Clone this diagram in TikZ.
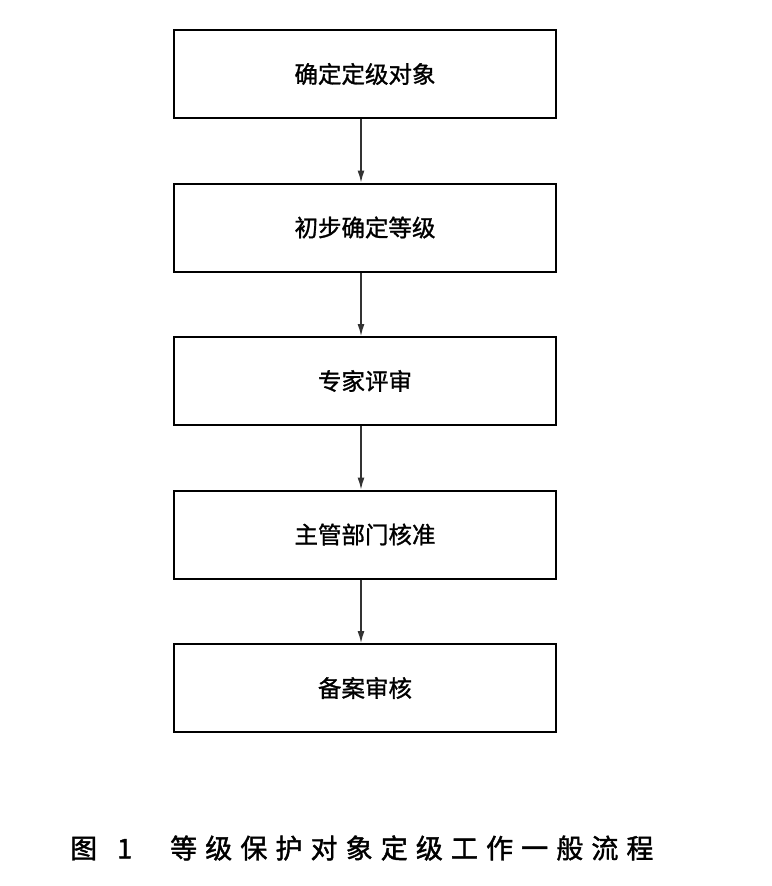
\documentclass[tikz,border=0pt]{standalone}
\usepackage{fontspec}
\usepackage{tikz}
\usetikzlibrary{
  arrows.meta,
  positioning
}
\newfontfamily\cjk[FakeBold=1.2]{Noto Sans CJK SC}
\newfontfamily\cjkcap[LetterSpace=30, FakeBold=1.5]{Noto Sans CJK SC}
\tikzset{
  lvbox/.style={
    draw, line width=2pt, minimum height=88pt, minimum width=382pt,
    font=\cjk\fontsize{23.5}{26}\selectfont, align=center, inner sep=0pt
  },
  flow/.style={-{Latex[length=12pt, width=7pt]}, line width=1.3pt, black!80},
  caption/.style={font=\cjkcap\fontsize{27}{30}\selectfont, inner sep=0pt}
}

\begin{document}
\begin{tikzpicture}[x=1pt, y=1pt, node distance=63.5pt]
  \useasboundingbox (0,0) rectangle (771,-886);
  \node[lvbox] (ident) at (365,-74) {确定定级对象};
  \node[lvbox, below=of ident] (prelim) {初步确定等级};
  \node[lvbox, below=of prelim] (review) {专家评审};
  \node[lvbox, below=of review] (approve) {主管部门核准};
  \node[lvbox, below=of approve] (record) {备案审核};
  \draw[flow] ([xshift=-4pt]ident.south) -- ([xshift=-4pt]prelim.north);
  \draw[flow] ([xshift=-4pt]prelim.south) -- ([xshift=-4pt]review.north);
  \draw[flow] ([xshift=-4pt]review.south) -- ([xshift=-4pt]approve.north);
  \draw[flow] ([xshift=-4pt]approve.south) -- ([xshift=-4pt]record.north);
  \node[caption, anchor=west] (cap) at (70,-848) {图\hspace{20pt}1\hspace{38pt}等级保护对象定级工作一般流程};
\end{tikzpicture}
\end{document}
